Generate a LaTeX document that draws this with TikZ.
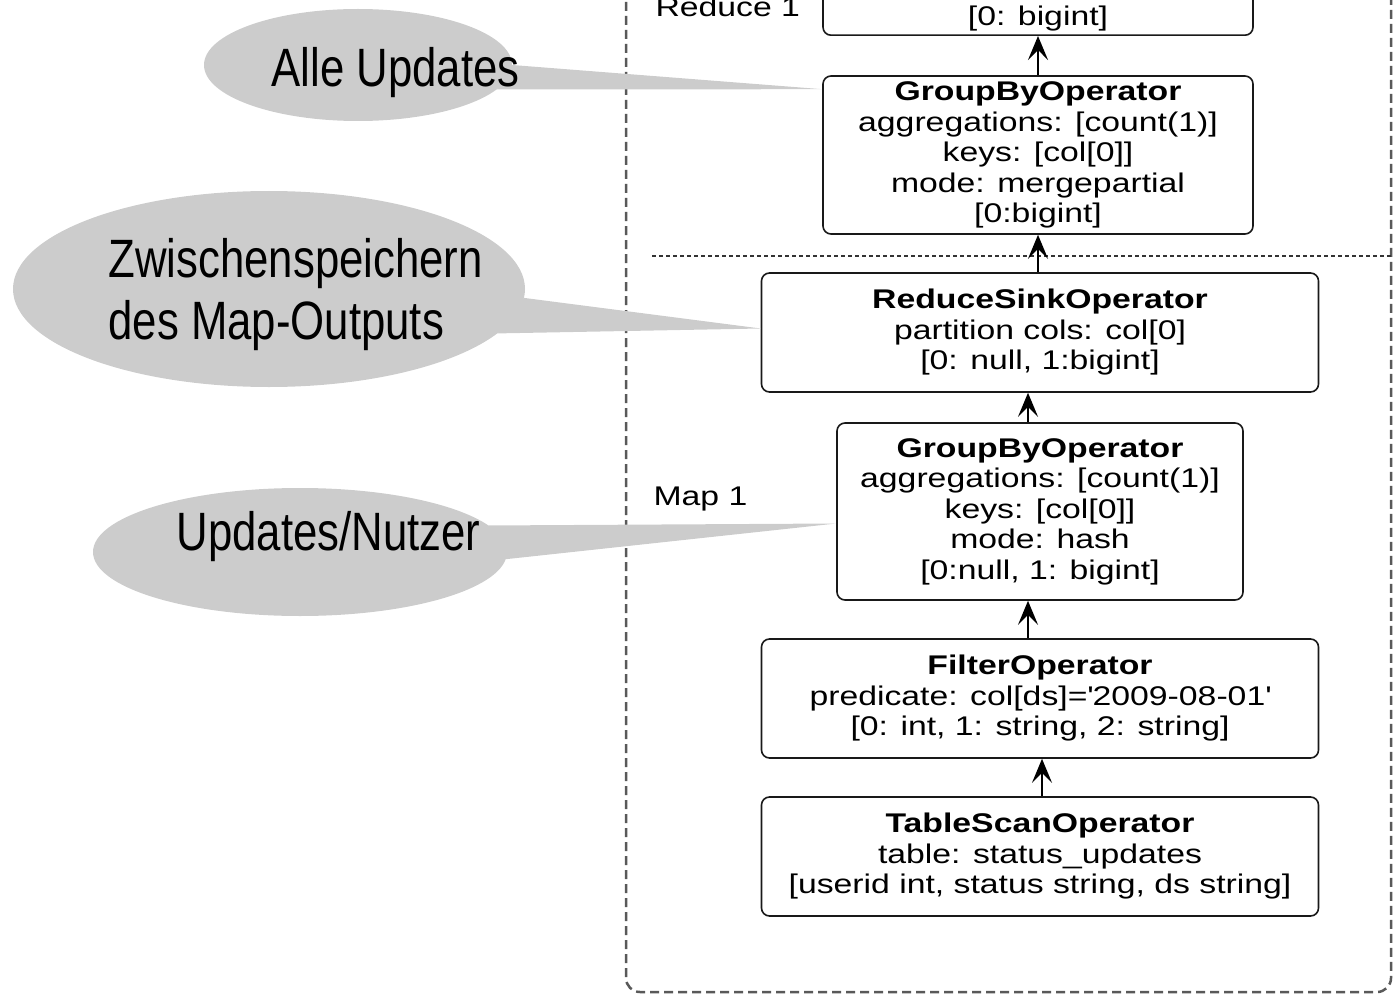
\documentclass[tikz,border=0pt]{standalone}
\usepackage{fontspec}
\setmainfont{Liberation Sans}
\newfontfamily\opfont[FakeStretch=1.25]{Liberation Sans}
\newfontfamily\notefont[FakeStretch=0.81]{Liberation Sans}
\usetikzlibrary{positioning, shapes.geometric, arrows.meta}

\begin{document}
\begin{tikzpicture}[x=1pt, y=-1pt, on grid,
   flow/.style={-{Stealth[length=24pt,width=20pt,inset=10pt]}, line width=1.8pt},
   op/.style={draw=black!90, line width=1.6pt, rounded corners=8pt, align=center,
              inner sep=2pt, font=\opfont\fontsize{27}{30.5}\selectfont},
   stage/.style={anchor=base west, font=\opfont\fontsize{27}{30.5}\selectfont},
   callout/.style={fill=black!20},
   bubble/.style={callout, ellipse, inner sep=0pt},
   note/.style={anchor=base west, align=left, font=\notefont\fontsize{54}{62}\selectfont}]
   \useasboundingbox (0,0) rectangle (1394,995);
   \clip (0,0) rectangle (1394,995);

   % stages
   \draw[black!65, line width=2.5pt, dash pattern=on 9pt off 5pt, rounded corners=14pt]
      (626,-40) rectangle (1391,992);
   \draw[black!80, line width=2.5pt, dash pattern=on 4pt off 3pt] (652,256) -- (1394,256);
   \node[stage] (redLbl) at (652,17) {Reduce 1};
   \node[stage] (mapLbl) at (650,505) {Map 1};

   % operators
   \node[op, minimum width=430pt, minimum height=158pt] (gbRed) at (1038,155)
      {\textbf{GroupByOperator}\\aggregations: [count(1)]\\keys: [col[0]]\\mode: mergepartial\\{[0:bigint]}};
   \node[op, minimum width=430pt, minimum height=158pt, anchor=south] (sink) at (1038,36)
      {\strut\\\strut\\\strut\\\strut\\{[0: bigint]}};
   \node[op, minimum width=557pt, minimum height=119pt] (rsOp) [below=177.5pt of gbRed, xshift=2pt]
      {\textbf{ReduceSinkOperator}\\partition cols: col[0]\\{[0: null, 1:bigint]}};
   \node[op, minimum width=406pt, minimum height=177pt] (gbMap) [below=179pt of rsOp]
      {\textbf{GroupByOperator}\\aggregations: [count(1)]\\keys: [col[0]]\\mode: hash\\{[0:null, 1: bigint]}};
   \node[op, minimum width=557pt, minimum height=119pt] (filterOp) [below=187pt of gbMap]
      {\textbf{FilterOperator}\\predicate: col[ds]=\textquotesingle2009-08-01\textquotesingle\\{[0: int, 1: string, 2: string]}};
   \node[op, minimum width=557pt, minimum height=119pt] (scanOp) [below=158pt of filterOp]
      {\textbf{TableScanOperator}\\table: status\_updates\\{[userid int, status string, ds string]}};

   \path[flow]
   (gbRed) edge (sink)
   ([xshift=-2pt]rsOp.north) edge ([xshift=-2pt]rsOp.north |- gbRed.south)
   ([xshift=-12pt]gbMap.north) edge ([xshift=-12pt]rsOp.south)
   ([xshift=-12pt]filterOp.north) edge ([xshift=-12pt]gbMap.south)
   ([xshift=2pt]scanOp.north) edge ([xshift=2pt]filterOp.south);

   % callouts
   \node[bubble, minimum width=308pt, minimum height=112pt] (allBub) at (358,65) {};
   \fill[callout] (allBub.0) -- ([yshift=-14pt]gbRed.north west) -- (allBub.-10) -- cycle;
   \node[note] (allTxt) at (268,87) {Alle Updates};

   \node[bubble, minimum width=512pt, minimum height=196pt] (zwBub) at (269,289) {};
   \fill[callout] (zwBub.-2) -- ([yshift=4pt]rsOp.west) -- (zwBub.-11) -- cycle;
   \node[note] (zwTxt) at (105,339) {Zwischenspeichern\\des Map-Outputs};

   \node[bubble, minimum width=414pt, minimum height=128pt] (unBub) at (300,552) {};
   \fill[callout] (unBub.8) -- ([yshift=-12pt]gbMap.west) -- (unBub.-2) -- cycle;
   \node[note] (unTxt) at (173,550) {Updates/Nutzer};
\end{tikzpicture}
\end{document}
